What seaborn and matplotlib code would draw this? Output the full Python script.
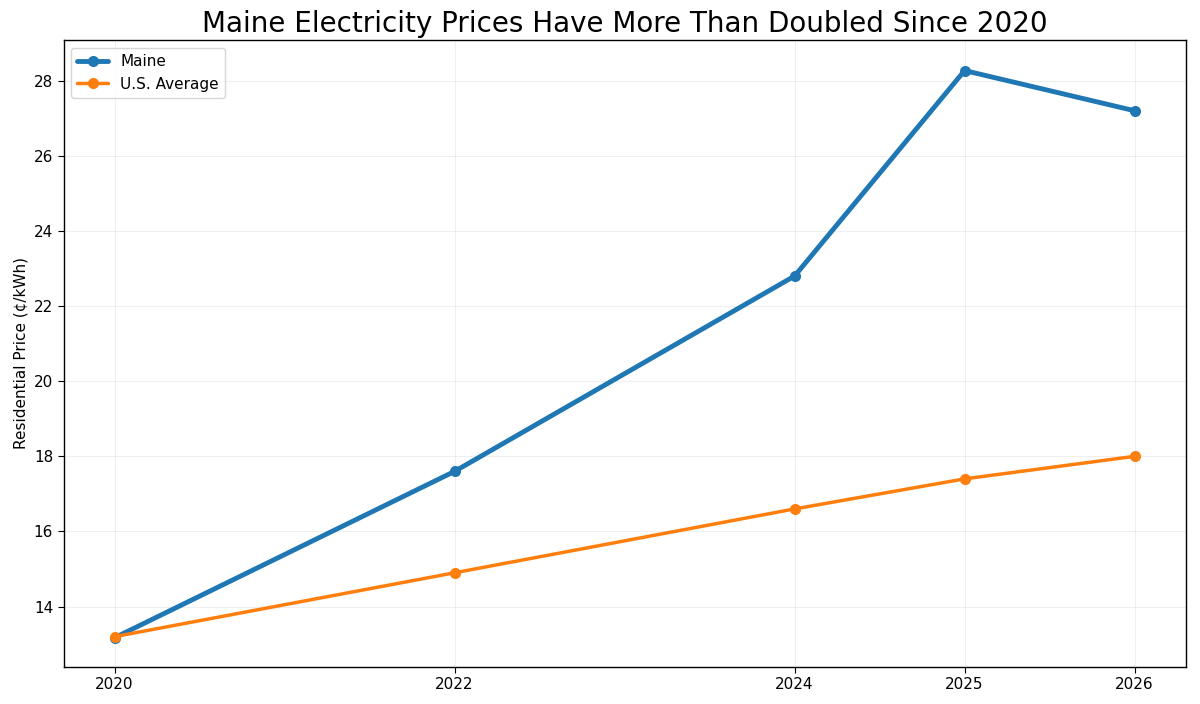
import matplotlib
matplotlib.use('Agg')
import matplotlib.pyplot as plt
import seaborn as sns

years = [2020, 2022, 2024, 2025, 2026]
maine = [13.17, 17.6, 22.8, 28.27, 27.2]
us_avg = [13.2, 14.9, 16.6, 17.4, 18.0]

sns.set_style('white')
plt.rcParams['font.family'] = ['DejaVu Sans']
plt.rcParams['text.color'] = 'black'
plt.rcParams['axes.labelcolor'] = 'black'
plt.rcParams['xtick.color'] = 'black'
plt.rcParams['ytick.color'] = 'black'

fig, ax = plt.subplots(figsize=(12, 7.04), dpi=100)
sns.lineplot(x=years, y=maine, ax=ax, color='#1f77b4', linewidth=3.5,
             marker='o', markersize=8, markeredgewidth=0, label='Maine')
sns.lineplot(x=years, y=us_avg, ax=ax, color='#ff7f0e', linewidth=2.5,
             marker='o', markersize=8, markeredgewidth=0, label='U.S. Average')

ax.set_xticks(years)
ax.set_xlim(2019.7, 2026.3)
ax.set_ylim(12.4, 29.08)
ax.set_ylabel('Residential Price (¢/kWh)', fontsize=11)
ax.set_title('Maine Electricity Prices Have More Than Doubled Since 2020', fontsize=20)
ax.grid(True, alpha=0.3)
for s in ax.spines.values():
    s.set_color('black')
    s.set_linewidth(1)
ax.tick_params(axis='both', labelsize=11, length=4, left=True, bottom=True)
ax.legend(loc='upper left', fontsize=11, frameon=True)

fig.subplots_adjust(left=0.053, right=0.988, top=0.943, bottom=0.053)
fig.savefig('out.png', dpi=100)
